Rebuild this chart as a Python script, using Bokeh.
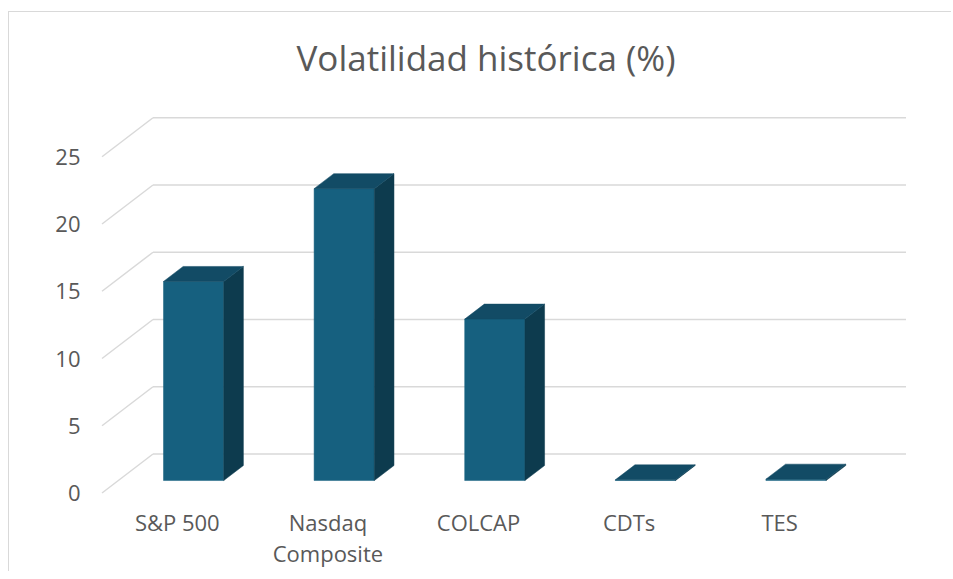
from bokeh.plotting import figure
from bokeh.models import Range1d, FixedTicker, Label, ColumnDataSource
from bokeh.core.properties import value
from bokeh.embed import file_html
from bokeh.resources import INLINE

# ---- data ----
categories = ["S&P 500", "Nasdaq\nComposite", "COLCAP", "CDTs", "TES"]
volatility = [14.8, 21.7, 12.0, 0.05, 0.1]
y_ticks = [0, 5, 10, 15, 20, 25]
title_text = "Volatilidad histórica (%)"

# ---- 3D projection (oblique) ----
PX_X = 150.6          # pixels per category on the floor
PX_Y = 13.45          # pixels per value unit
DX = 51 / PX_X        # depth shift (front -> back wall) in category units
DY = 39 / PX_Y        # depth shift in value units
D0, D1 = 0.32, 0.705  # bar front / back depth
HALF = 0.2            # half bar width in category units

FONT = "Open Sans"
GREY = "#595959"
FACE, TOP, SIDE = "#16607F", "#124B65", "#0D3B4E"
GRID = "#d9d9d9"

# canvas/page geometry
W, H = 943, 560
OX, OY = 9.5, 12.5          # canvas origin on page (after css margin + border)
BL = 87                      # left border (axis area)
FL = OX + BL                 # frame left on page
X0P, Y0P = 102.0, 493.0      # page position of data (0, 0)

x_range = Range1d((FL - X0P) / PX_X, (OX + W - X0P) / PX_X)
y_range = Range1d((Y0P - (OY + H)) / PX_Y, (Y0P - OY) / PX_Y)

p = figure(width=W, height=H, x_range=x_range, y_range=y_range,
           output_backend="svg", toolbar_location=None, tools="",
           x_axis_location=None, min_border_left=BL, min_border_right=0,
           min_border_top=0, min_border_bottom=0)
p.styles = {"border-left": "1.5px solid #d9d9d9", "border-top": "1.5px solid #d9d9d9",
            "margin-top": "11px", "margin-left": "8px"}
p.outline_line_color = None
p.background_fill_color = "white"
p.border_fill_color = "white"
p.xgrid.visible = False
p.ygrid.visible = False

ax = p.yaxis[0]
ax.ticker = FixedTicker(ticks=y_ticks)
ax.axis_line_color = None
ax.major_tick_line_color = None
ax.minor_tick_line_color = None
ax.major_tick_out = 0
ax.major_tick_in = 0
ax.major_label_standoff = int(round(FL - 80))
ax.major_label_text_font = FONT
ax.major_label_text_font_size = "22px"
ax.major_label_text_color = GREY

n = len(categories)
# back wall gridlines and left wall lines
back_xs = [[DX, n + DX] for _ in y_ticks]
back_ys = [[t + DY, t + DY] for t in y_ticks]
side_xs = [[0, DX] for _ in y_ticks]
side_ys = [[t, t + DY] for t in y_ticks]
p.multi_line(back_xs + side_xs, back_ys + side_ys, line_color=GRID, line_width=1.5)

# bars
front_x, front_y, side_x, side_y, top_x, top_y = [], [], [], [], [], []
for i, v in enumerate(volatility):
    c = i + 0.5
    l0, r0 = c - HALF + D0 * DX, c + HALF + D0 * DX
    l1, r1 = c - HALF + D1 * DX, c + HALF + D1 * DX
    b0, b1 = D0 * DY, D1 * DY
    front_x.append([l0, r0, r0, l0]); front_y.append([b0, b0, v + b0, v + b0])
    side_x.append([r0, r1, r1, r0]); side_y.append([b0, b1, v + b1, v + b0])
    top_x.append([l0, r0, r1, l1]); top_y.append([v + b0, v + b0, v + b1, v + b1])

p.patches(front_x, front_y, fill_color=FACE, line_color=FACE, line_width=0.5)
p.patches(side_x, side_y, fill_color=SIDE, line_color=SIDE, line_width=0.5)
p.patches(top_x, top_y, fill_color=TOP, line_color=TOP, line_width=0.5)

# category labels on the front edge of the floor
lab = ColumnDataSource(dict(x=[i + 0.5 for i in range(n)],
                            y=[(Y0P - 507) / PX_Y] * n, text=categories))
p.text("x", "y", text="text", source=lab, text_align="center", text_baseline="top",
       text_font=value(FONT), text_font_size="22px", text_color=GREY,
       text_line_height=1.03)

p.add_layout(Label(x=(486 - X0P) / PX_X, y=(Y0P - 57) / PX_Y, text=title_text,
                   text_align="center", text_baseline="middle", text_font=FONT,
                   text_font_size="35px", text_color=GREY))

open("out.html", "w").write(file_html(p, INLINE))
